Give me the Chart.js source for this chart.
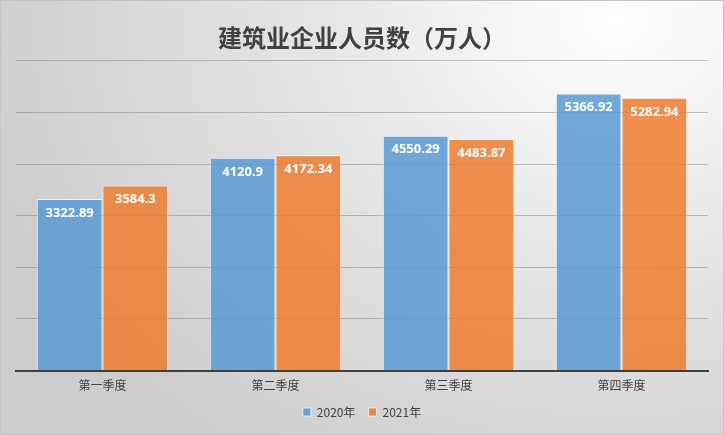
<!DOCTYPE html>
<html>
<head>
<meta charset="utf-8">
<script src="https://cdn.jsdelivr.net/npm/chart.js@4/dist/chart.umd.min.js"></script>
<style>
  html, body { margin: 0; padding: 0; }
  body {
    width: 724px; height: 435px; overflow: hidden;
    background: radial-gradient(ellipse 90% 120% at 85% 5%, #ffffff 0%, #e6e6e6 45%, #cdcdcd 100%);
  }
  .wrap { position: relative; width: 722px; height: 433px; border: 1px solid #c4c4c4; }
</style>
</head>
<body>
<div class="wrap"><canvas id="chart"></canvas></div>
<script>
/* ─── data ─── */
const categories = ['第一季度', '第二季度', '第三季度', '第四季度'];
const series2020 = [3322.89, 4120.9, 4550.29, 5366.92];
const series2021 = [3584.3, 4172.34, 4483.87, 5282.94];
const seriesNames = ['2020年', '2021年'];
const yMax = 6000;
const yStep = 1000;

(function () {
  'use strict';

  const FONT = "'Noto Sans CJK SC', 'Noto Sans', sans-serif";

  /* ── value labels inside the top of each bar ── */
  const barLabels = {
    id: 'barLabels',
    afterDatasetsDraw(chart) {
      const ctx = chart.ctx;
      ctx.save();
      ctx.fillStyle = '#ffffff';
      ctx.font = "bold 13px 'Noto Sans', sans-serif";
      ctx.textAlign = 'center';
      ctx.textBaseline = 'middle';
      chart.data.datasets.forEach((ds, i) => {
        chart.getDatasetMeta(i).data.forEach((bar, j) => {
          ctx.fillText(String(ds.data[j]), bar.x, bar.y + 14);
        });
      });
      ctx.restore();
    }
  };

  new Chart(document.getElementById('chart'), {
    type: 'bar',
    data: {
      labels: categories,
      datasets: [
        {
          label: seriesNames[0],
          data: series2020,
          backgroundColor: 'rgba(91,155,213,0.86)',
          borderColor: 'rgba(255,255,255,0.7)',
          borderWidth: 1,
          categoryPercentage: 0.76,
          barPercentage: 1,
        },
        {
          label: seriesNames[1],
          data: series2021,
          backgroundColor: 'rgba(237,125,49,0.86)',
          borderColor: 'rgba(255,255,255,0.7)',
          borderWidth: 1,
          categoryPercentage: 0.76,
          barPercentage: 1,
        },
      ],
    },
    options: {
      responsive: true,
      maintainAspectRatio: false,
      animation: false,
      layout: { padding: { left: 15, right: 15, top: 0, bottom: 6 } },
      scales: {
        x: {
          grid: { display: false },
          border: { color: '#404040', width: 2 },
          ticks: { color: '#404040', font: { family: FONT, size: 12 }, padding: 0 },
        },
        y: {
          min: 0,
          max: yMax,
          ticks: { display: false, stepSize: yStep },
          grid: { color: 'rgba(90,90,90,0.35)', drawTicks: false },
          border: { display: false },
        },
      },
      plugins: {
        title: {
          display: true,
          text: '建筑业企业人员数（万人）',
          color: '#404040',
          font: { family: FONT, size: 24, weight: 'bold' },
          padding: { top: 22, bottom: 9 },
        },
        legend: {
          display: true,
          position: 'bottom',
          labels: {
            color: '#404040',
            font: { family: FONT, size: 12 },
            boxWidth: 8,
            boxHeight: 8,
            padding: 13,
          },
        },
        tooltip: { enabled: false },
      },
    },
    plugins: [barLabels],
  });
})();
</script>
</body>
</html>
